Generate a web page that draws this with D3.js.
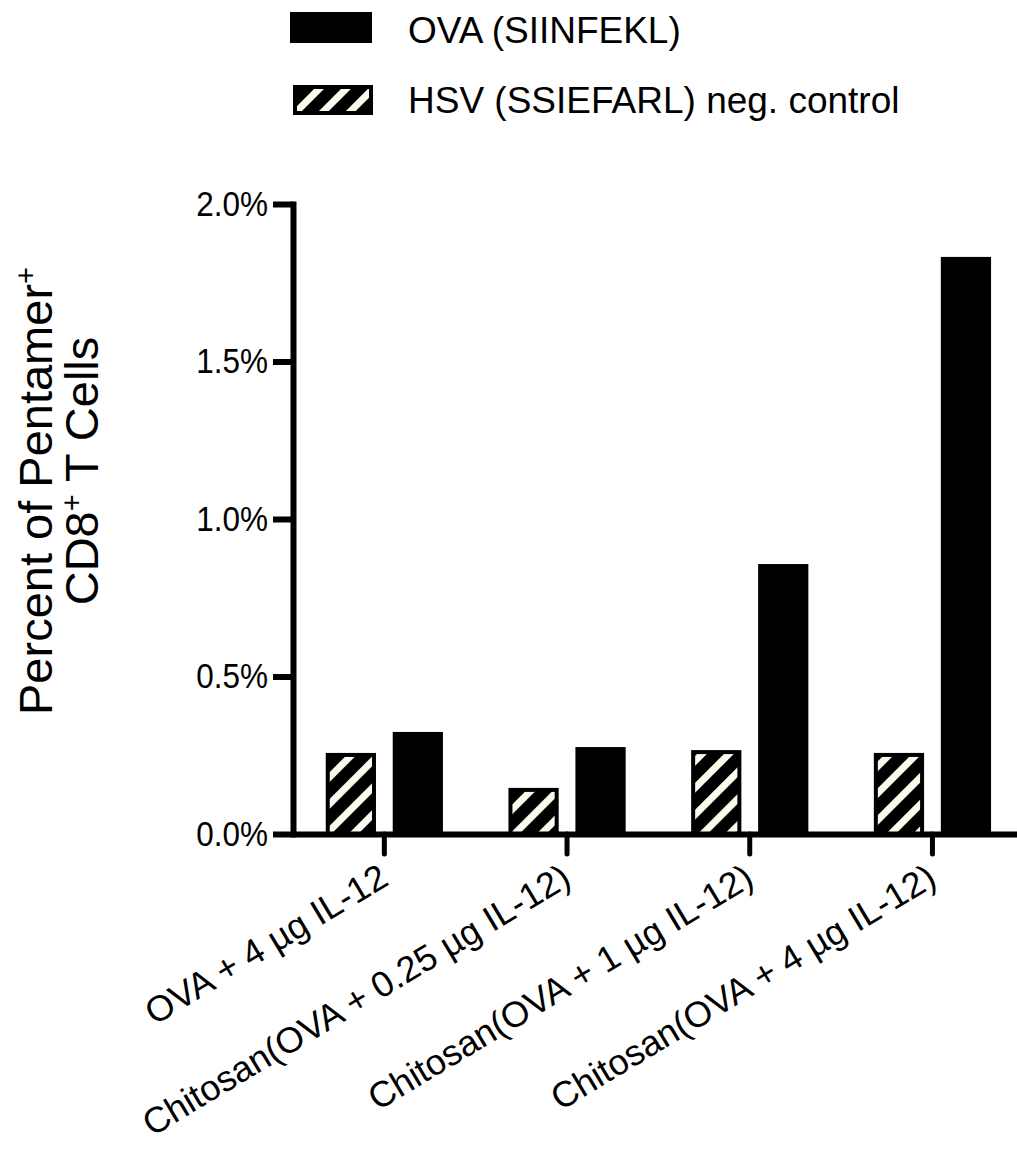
<!DOCTYPE html>
<html>
<head>
<meta charset="utf-8">
<script src="https://cdn.jsdelivr.net/npm/d3@7"></script>
<style>
  body { margin: 0; background: #fff; }
  svg { display: block; font-family: "Liberation Sans", Arial, sans-serif; }
</style>
</head>
<body>
<div id="chart"></div>
<script>
const categories = ["OVA + 4 µg IL-12", "Chitosan(OVA + 0.25 µg IL-12)", "Chitosan(OVA + 1 µg IL-12)", "Chitosan(OVA + 4 µg IL-12)"];
const seriesNames = ["HSV (SSIEFARL) neg. control", "OVA (SIINFEKL)"];
const hsvValues = [0.00251, 0.0014, 0.0026, 0.00251];
const ovaValues = [0.00324, 0.00276, 0.00857, 0.01832];
const yTicks = [0, 0.005, 0.01, 0.015, 0.02];

const width = 1017;
const height = 1149;

const svg = d3.select("#chart").append("svg")
  .attr("width", width)
  .attr("height", height);

// hatch for the negative control
const defs = svg.append("defs");
const pat = defs.append("pattern")
  .attr("id", "hatch")
  .attr("patternUnits", "userSpaceOnUse")
  .attr("width", 19).attr("height", 19)
  .attr("patternTransform", "rotate(45)");
pat.append("rect").attr("width", 19).attr("height", 19).attr("fill", "#000");
pat.append("rect").attr("width", 7).attr("height", 19).attr("fill", "#fbfaec");

const x0 = d3.scaleBand()
  .domain(categories)
  .range([293, 293 + 4 * 182.7])
  .paddingInner(0);

const x1 = d3.scaleBand()
  .domain(seriesNames)
  .range([0, x0.bandwidth()])
  .paddingInner(0.25)
  .paddingOuter(0.489);

const y = d3.scaleLinear()
  .domain([0, 0.02])
  .range([834, 204]);

const bw = x1.bandwidth();

// hatched bars
svg.append("g")
  .selectAll("rect")
  .data(categories)
  .join("rect")
    .attr("x", (d) => x0(d) + x1(seriesNames[0]) + 2)
    .attr("y", (d, i) => y(hsvValues[i]))
    .attr("width", bw - 4)
    .attr("height", (d, i) => y(0) - y(hsvValues[i]))
    .attr("fill", "url(#hatch)")
    .attr("stroke", "#000")
    .attr("stroke-width", 4);

// solid bars
svg.append("g")
  .selectAll("rect")
  .data(categories)
  .join("rect")
    .attr("x", (d) => x0(d) + x1(seriesNames[1]))
    .attr("y", (d, i) => y(ovaValues[i]))
    .attr("width", bw)
    .attr("height", (d, i) => y(0) - y(ovaValues[i]))
    .attr("fill", "#000");

function yAxis(g) {
  g.attr("transform", "translate(293,0)")
    .call(d3.axisLeft(y).tickValues(yTicks).tickFormat(d3.format(".1%"))
      .tickSize(20).tickSizeOuter(0).tickPadding(5));
  g.select(".domain").attr("stroke-width", 6).attr("stroke-linecap", "square");
  g.selectAll(".tick line").attr("stroke-width", 6);
  // labels are a bit narrow in the original
  g.selectAll(".tick text")
    .attr("font-size", "35px").attr("fill", "#000")
    .attr("font-family", "Liberation Sans, Arial, sans-serif")
    .attr("x", -25 / 0.9)
    .attr("transform", "scale(0.9,1)");
}

function xAxis(g) {
  g.attr("transform", "translate(0,834)")
    .call(d3.axisBottom(x0).tickSize(20).tickSizeOuter(0).tickFormat(""));
  g.select(".domain").attr("stroke-width", 6);
  g.selectAll(".tick line").attr("stroke-width", 5).attr("stroke-linecap", "round");
}

svg.append("g").call(xAxis);
svg.append("g").call(yAxis);

// slanted category labels
svg.append("g")
  .selectAll("text")
  .data(categories)
  .join("text")
    .attr("transform", (d) => `translate(${x0(d) + x0.bandwidth() / 2 + 6},884) rotate(-31)`)
    .attr("text-anchor", "end")
    .attr("font-size", "36px")
    .attr("fill", "#000")
    .text((d) => d);

// y title, two lines
const t1 = svg.append("text")
  .attr("transform", "translate(52,491) rotate(-90)")
  .attr("text-anchor", "middle")
  .attr("font-size", "47px");
t1.append("tspan").text("Percent of Pentamer");
t1.append("tspan").attr("baseline-shift", "super").attr("font-size", "29px").text("+");

const t2 = svg.append("text")
  .attr("transform", "translate(98,471) rotate(-90)")
  .attr("text-anchor", "middle")
  .attr("font-size", "47px");
t2.append("tspan").text("CD8");
t2.append("tspan").attr("baseline-shift", "super").attr("font-size", "29px").text("+");
t2.append("tspan").text(" T Cells");

// legend
const legend = svg.append("g");
legend.append("rect")
  .attr("x", 290).attr("y", 12).attr("width", 82).attr("height", 31)
  .attr("fill", "#000");
legend.append("rect")
  .attr("x", 295).attr("y", 87).attr("width", 76).attr("height", 26)
  .attr("fill", "url(#hatch)").attr("stroke", "#000").attr("stroke-width", 4);
legend.append("text")
  .attr("x", 408).attr("y", 43)
  .attr("font-size", "37px")
  .text(seriesNames[1]);
legend.append("text")
  .attr("x", 408).attr("y", 113)
  .attr("font-size", "37px")
  .text(seriesNames[0]);
</script>
</body>
</html>
